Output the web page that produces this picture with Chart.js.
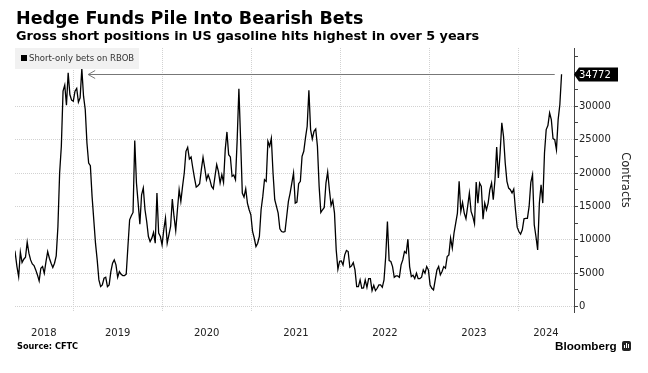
<!DOCTYPE html>
<html><head><meta charset="utf-8">
<style>
html,body{margin:0;padding:0;background:#fff;width:648px;height:373px;overflow:hidden}
#wrap{position:relative;width:648px;height:373px}
canvas{position:absolute;left:0;top:0}
.t{position:absolute;white-space:nowrap;color:#000;font-family:"DejaVu Sans",sans-serif}
#title{left:16px;top:8px;font-size:17.5px;font-weight:700}
#sub{left:16px;top:28px;font-size:12.8px;font-weight:700}
#legend{left:15px;top:48px;width:124px;height:21px;background:#f1f1f1;font-size:8.5px;color:#333;line-height:21px}
#legend i{position:absolute;left:6px;top:7px;width:6px;height:6px;background:#000}
#legend span{position:absolute;left:14px}
#source{left:17px;top:341px;font-size:8.2px;font-weight:700}
#brand{left:555px;top:339px;font-size:11.7px;font-weight:700;font-family:"Liberation Sans",sans-serif}
#logo{position:absolute;left:622px;top:341px;width:9px;height:10px;background:#222;border-radius:2px}
#logo b{position:absolute;bottom:3px;width:1px;background:#fff}
</style></head><body>
<div id="wrap">
<canvas id="c" width="648" height="373"></canvas>
<div class="t" id="title">Hedge Funds Pile Into Bearish Bets</div>
<div class="t" id="sub">Gross short positions in US gasoline hits highest in over 5 years</div>
<div class="t" id="legend"><i></i><span>Short-only bets on RBOB</span></div>
<div class="t" id="source">Source: CFTC</div>
<div class="t" id="brand">Bloomberg</div>
<div id="logo"><b style="left:2px;height:3px"></b><b style="left:4px;height:5px"></b><b style="left:6px;height:4px"></b></div>
</div>
<script src="https://cdn.jsdelivr.net/npm/chart.js@4/dist/chart.umd.min.js"></script>
<script>
const seriesName = "Short-only bets on RBOB";
const lastWeek = "2024-06-25";
const shorts2018 = [7100,8000,6000,4500,8150,6600,7100,7400,9650,8000,7000,6400,6150,5500,4750,3850,5750,6000,5000,6750,8250,7250,6500,5850,6500,7600,12000,20000,24000,32250,33150,30150,35000,31750,30900,30750,32250,32650,30600,31250,35600,31500,29500];
const shorts2019 = [24500,21500,21100,16500,13000,9500,7000,4000,3000,3250,4250,4400,3000,3250,5250,6500,7000,6250,4400,5250,4850,4650,4650,4850,9000,13000,13600,14100,24850,18500,15500,12350,16750,17750,14500,12750,10500,9750,10250,11100,9500,17000,11000,10500,9250,11500,13250,9500,10750,12000,16100,13500,11400,14500];
const shorts2020 = [17500,15750,18000,20000,23250,23850,22100,22400,20750,19250,17900,18100,18400,20500,22350,20750,19000,19750,19000,18000,17650,19500,21250,20250,18500,19750,18600,23500,26150,22750,22400,19500,19700,19000,25000,32600,25000,17000,16400,17650,15500,14500,13750,11250,10250,9000,9500,10500,14500,16500,19000,18750];
const shorts2021 = [24750,24000,25200,20000,16000,15000,14000,11650,11250,11150,11250,13500,15750,17000,18500,20000,15500,15650,18400,18750,22500,23250,25250,27000,32400,26500,25100,26250,26600,24000,18000,14100,14500,14850,18500,20150,17500,15150,15900,14000,8500,5600,6800,6850,6250,7750,8400,8250,5900,6100,6600];
const shorts2022 = [5500,3000,3000,4000,2750,2800,4000,2900,4200,4200,2400,3200,2400,2750,3250,3250,2900,4000,7500,12750,6900,6750,6000,4400,4600,4600,4400,6250,7000,8250,8000,10100,6000,4500,4700,4200,5000,4200,4200,4400,5500,5000,6000,5500,3250];
const shorts2023 = [2750,2500,4000,5500,6000,4750,5250,6000,5750,7500,7750,10250,8750,11000,12500,14000,18750,14250,15600,14000,13150,15000,17000,14250,13500,12400,18650,15500,18500,18000,13100,15500,14500,15500,17500,18500,16000,19000,23900,19250,23000,27500,25500,21500,18750,17750,17500,17000,17600,14500,11900,11250,10850,11500,13150,13200,13200,15000,18600,19750];
const shorts2024 = [12250,10500,8500,15500,18250,15500,23000,26500,27100,29000,28000,25150,25000,23500,28000,30250,34772];
const shorts = [].concat(shorts2018,shorts2019,shorts2020,shorts2021,shorts2022,shorts2023,shorts2024);
const yTicks = [0,2500,5000,7500,10000,12500,15000,17500,20000,22500,25000,27500,30000,32500,35000,37500];
const yearStarts = ["2019-01-01","2020-01-01","2021-01-01","2022-01-01","2023-01-01","2024-01-01"];
const yearLabels = ["2018","2019","2020","2021","2022","2023","2024"];
const yearLabelDates = ["2018-09-02","2019-07-02","2020-07-01","2021-07-02","2022-07-02","2023-07-02","2024-04-22"];
const ms = s => Date.parse(s+"T00:00:00Z");
const week = 7*864e5;
const points = shorts.map((v,i)=>({x:ms(lastWeek)-(shorts.length-1-i)*week,y:v}));
const lastValue = shorts[shorts.length-1];
const arrowEnds = ["2019-03-03","2024-05-28"];
const xRange = {min:ms("2018-05-07"),max:ms("2024-08-15")};

const endMarks = {
  id:"endMarks",
  afterDatasetsDraw(chart){
    const {ctx,scales:{x,y}} = chart;
    const py = Math.round(y.getPixelForValue(lastValue))+.5;
    ctx.save();
    const x0 = x.getPixelForValue(ms(arrowEnds[0])), x1 = x.getPixelForValue(ms(arrowEnds[1]));
    ctx.strokeStyle="#777";ctx.lineWidth=1;
    ctx.beginPath();ctx.moveTo(x0,py);ctx.lineTo(x1,py);ctx.stroke();
    ctx.beginPath();ctx.moveTo(x0+7,py-4);ctx.lineTo(x0,py);ctx.lineTo(x0+7,py+4);ctx.stroke();
    const ax = chart.chartArea.right;
    ctx.fillStyle="#000";
    ctx.beginPath();ctx.moveTo(ax,py);ctx.lineTo(ax+5,py-7);ctx.lineTo(ax+44,py-7);ctx.lineTo(ax+44,py+7);ctx.lineTo(ax+5,py+7);ctx.closePath();ctx.fill();
    ctx.fillStyle="#fff";ctx.font='10px "DejaVu Sans"';ctx.textBaseline="middle";ctx.textAlign="left";
    ctx.fillText(String(lastValue),ax+5,py+.5);
    ctx.restore();
  }
};

new Chart(document.getElementById("c"),{
  type:"line",
  data:{datasets:[{label:seriesName,data:points,borderColor:"#000",borderWidth:1.3,pointRadius:0,tension:0,fill:false}]},
  plugins:[endMarks],
  options:{
    responsive:false,animation:false,
    layout:{padding:{left:15,top:48,right:16,bottom:0}},
    plugins:{legend:{display:false},tooltip:{enabled:false},title:{display:false}},
    scales:{
      x:{type:"linear",position:"bottom",min:xRange.min,max:xRange.max,
        afterBuildTicks(s){s.ticks=yearStarts.map(d=>({value:ms(d)}));},
        afterFit(s){s.height=0;},
        ticks:{display:false,autoSkip:false},
        border:{display:false,dash:[1,1]},
        grid:{color:"#d2d2d2",drawTicks:false,tickLength:0}},
      years:{type:"linear",position:"bottom",min:xRange.min,max:xRange.max,
        afterBuildTicks(s){s.ticks=yearLabelDates.map(d=>({value:ms(d)}));},
        afterFit(s){s.height=61;},
        ticks:{autoSkip:false,maxRotation:0,padding:7,color:"#222",font:{family:"DejaVu Sans",size:10},callback:(v,i)=>yearLabels[i]},
        border:{display:false},grid:{display:false}},
      y:{type:"linear",position:"right",min:-800,max:38710,
        afterBuildTicks(s){s.ticks=yTicks.map(v=>({value:v}));},
        afterFit(s){s.width=58;},
        ticks:{padding:1,color:"#222",autoSkip:false,font:{family:"DejaVu Sans",size:10},
          callback:v=>(v%5000===0&&v<=30000)?String(v):""},
        title:{display:true,text:"Contracts",color:"#222",font:{family:"DejaVu Sans",size:11.5},padding:{top:0,bottom:0}},
        border:{display:true,color:"#444",width:1,dash:[1,1]},
        grid:{tickLength:4,tickColor:"#444",tickBorderDash:[],
          color:c=>(c.tick&&c.tick.value%5000===0&&c.tick.value<=30000)?"#d2d2d2":"rgba(0,0,0,0)"}}
    }
  }
});
</script>
</body></html>
